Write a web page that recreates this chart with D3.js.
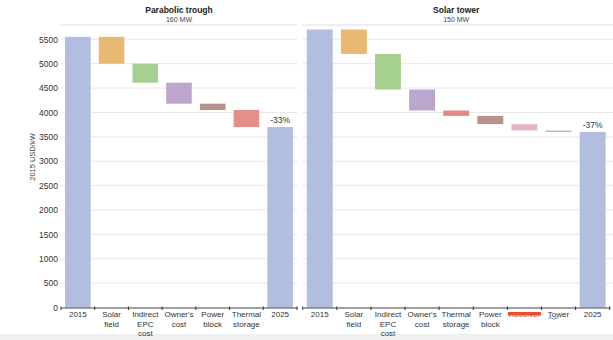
<!DOCTYPE html>
<html>
<head>
<meta charset="utf-8">
<script src="https://cdn.jsdelivr.net/npm/d3@7"></script>
<style>
  body { margin: 0; background: #fff; }
  svg { display: block; font-family: "Liberation Sans", Arial, sans-serif; }
</style>
</head>
<body>
<svg id="chart" width="613" height="340"></svg>
<script>
// Installed cost breakdown, 2015 -> 2025 (2015 USD/kW)
const troughCategories = ["2015", "Solar\nfield", "Indirect\nEPC\ncost", "Owner's\ncost", "Power\nblock", "Thermal\nstorage", "2025"];
const troughValues = [5550, -550, -390, -430, -130, -350, 3700];
const troughColors = ["#b1bee0", "#e9b872", "#a6d08f", "#bca6cd", "#b8918a", "#e48f8c", "#b1bee0"];

const towerCategories = ["2015", "Solar\nfield", "Indirect\nEPC\ncost", "Owner's\ncost", "Thermal\nstorage", "Power\nblock", "Receiver", "Tower", "2025"];
const towerValues = [5700, -500, -730, -430, -110, -170, -130, -30, 3600];
const towerColors = ["#b1bee0", "#e9b872", "#a6d08f", "#bca6cd", "#e48a82", "#b8918a", "#e8b4c8", "#bdbdbd", "#b1bee0"];

const yTicks = d3.range(0, 5501, 500);

const svg = d3.select("#chart");

// strip along the bottom edge
svg.append("rect").attr("x", 0).attr("y", 334).attr("width", 613).attr("height", 6).attr("fill", "#eff1f1");

const y = d3.scaleLinear().domain([0, 5500]).range([307.5, 39.3]);

// turn the value list into floating bars: totals start at 0, deltas hang from the running sum
function steps(values) {
  let run = 0;
  return values.map((v, i) => {
    if (i === 0 || i === values.length - 1) {
      run = v;
      return { lo: 0, hi: v, total: true };
    }
    const s = { lo: run + v, hi: run, total: false };
    run += v;
    return s;
  });
}

function panel(opts) {
  const { cats, values, colors, x0, x1, title, sub } = opts;
  const x = d3.scaleBand().domain(cats).range([x0, x1]).paddingInner(0.24).paddingOuter(0.12);
  const g = svg.append("g");

  // frame top + gridlines
  g.append("line").attr("x1", x0 - 1).attr("x2", opts.frameEnd).attr("y1", 25).attr("y2", 25)
    .attr("stroke", "#dedede").attr("stroke-width", 1);
  g.selectAll(".grid").data(yTicks.slice(1)).join("line")
    .attr("x1", x0).attr("x2", opts.frameEnd)
    .attr("y1", d => y(d)).attr("y2", d => y(d))
    .attr("stroke", "#e9e9e9").attr("stroke-width", 1);

  const data = steps(values);
  g.selectAll(".bar").data(data).join("rect")
    .attr("x", (d, i) => x(cats[i]))
    .attr("width", x.bandwidth())
    .attr("y", d => y(d.hi))
    .attr("height", d => Math.max(1.5, y(d.lo) - y(d.hi)))
    .attr("fill", (d, i) => colors[i]);

  // change label over the final total
  const last = cats[cats.length - 1];
  const pct = Math.round((values[values.length - 1] / values[0] - 1) * 100);
  g.append("text")
    .attr("x", x(last) + x.bandwidth() / 2)
    .attr("y", y(values[values.length - 1]) - 4)
    .attr("text-anchor", "middle")
    .attr("font-size", 8.5).attr("fill", "#333")
    .text(pct + "%");

  // x axis with ticks on the band edges
  const axis = g.append("g").attr("transform", `translate(0,${y(0)})`)
    .call(d3.axisBottom(x).tickSize(0).tickSizeOuter(0).tickFormat(""));
  axis.select(".domain").attr("stroke", "#444");
  const half = (x.step() - x.bandwidth()) / 2;
  const edges = cats.map(c => x(c) - half).concat([x(last) + x.bandwidth() + half]);
  axis.selectAll(".edge").data(edges).join("line")
    .attr("x1", d => d).attr("x2", d => d).attr("y1", -1).attr("y2", 2.5)
    .attr("stroke", "#333");

  axis.selectAll(".tick").each(function(d) {
    const t = d3.select(this).append("text")
      .attr("y", 9.5).attr("text-anchor", "middle")
      .attr("font-size", 8).attr("fill", "#333");
    d.split("\n").forEach((line, k) => {
      t.append("tspan").attr("x", 0).attr("dy", k === 0 ? "0" : "1.2em").text(line);
    });
    if (d === "Receiver") {
      t.attr("fill", "#e06040");
      d3.select(this).append("rect").attr("x", -16.5).attr("y", 4.5).attr("width", 33).attr("height", 3.5)
        .attr("fill", "#e8502e");
    }
    if (d === "Tower") {
      d3.select(this).append("path").attr("d", "M-10,10.5 l3,0 l2,1 l2,-1 l3,0")
        .attr("fill", "none").attr("stroke", "#3d6fb5").attr("stroke-width", 0.8);
    }
  });

  // titles
  const cx = (x0 + x1) / 2;
  g.append("text").attr("x", cx).attr("y", 13).attr("text-anchor", "middle")
    .attr("font-size", 8.5).attr("font-weight", "bold").attr("fill", "#222").text(title);
  g.append("text").attr("x", cx).attr("y", 22).attr("text-anchor", "middle")
    .attr("font-size", 7).attr("fill", "#444").text(sub);
  return x;
}

panel({ cats: troughCategories, values: troughValues, colors: troughColors,
  x0: 61, x1: 297, frameEnd: 297, title: "Parabolic trough", sub: "160 MW" });
panel({ cats: towerCategories, values: towerValues, colors: towerColors,
  x0: 302.7, x1: 609.7, frameEnd: 613, title: "Solar tower", sub: "150 MW" });

// y axis labels (left panel only)
const yAxis = svg.append("g").attr("transform", "translate(59,0)")
  .call(d3.axisLeft(y).tickValues(yTicks).tickFormat(d3.format("d")).tickSize(0).tickPadding(1));
yAxis.select(".domain").remove();
yAxis.selectAll("text").attr("font-size", 8.5).attr("fill", "#333")
  .attr("font-family", "Liberation Sans, Arial, sans-serif");

svg.append("text")
  .attr("transform", "translate(35,157) rotate(-90)")
  .attr("text-anchor", "middle")
  .attr("font-size", 7.5).attr("fill", "#444")
  .text("2015 USD/kW");
</script>
</body>
</html>
